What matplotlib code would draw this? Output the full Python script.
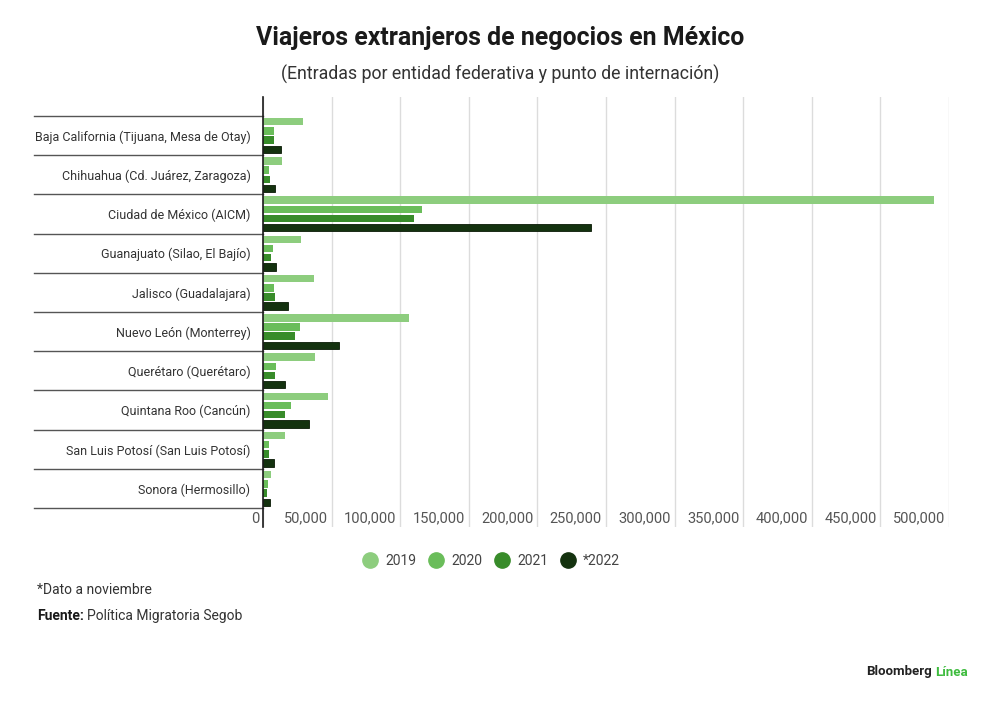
import matplotlib
matplotlib.use("Agg")
import matplotlib.pyplot as plt
import matplotlib.transforms as mtransforms
from matplotlib.lines import Line2D
import numpy as np

plt.rcParams['font.family'] = ['Roboto', 'DejaVu Sans']

categories = [
    "Baja California (Tijuana, Mesa de Otay)",
    "Chihuahua (Cd. Juárez, Zaragoza)",
    "Ciudad de México (AICM)",
    "Guanajuato (Silao, El Bajío)",
    "Jalisco (Guadalajara)",
    "Nuevo León (Monterrey)",
    "Querétaro (Querétaro)",
    "Quintana Roo (Cancún)",
    "San Luis Potosí (San Luis Potosí)",
    "Sonora (Hermosillo)",
]
series_names = ["2019", "2020", "2021", "*2022"]
v2019 = [29400, 14100, 489000, 27700, 37000, 106700, 37900, 47100, 15800, 5800]
v2020 = [8000, 4400, 115600, 7300, 8000, 27200, 9500, 20200, 4100, 3400]
v2021 = [8000, 5100, 110300, 5800, 8700, 23300, 8700, 16300, 4100, 2700]
v2022 = [13100, 8700, 239000, 9500, 18000, 55400, 16300, 33800, 8000, 5100]
xticks = [0, 50000, 100000, 150000, 200000, 250000, 300000, 350000, 400000, 450000, 500000]
xticklabels = ["0", "50,000", "100,000", "150,000", "200,000", "250,000",
               "300,000", "350,000", "400,000", "450,000", "500,000"]

colors = ["#8dcd7e", "#6abd5a", "#388c2a", "#14320f"]
edges = ["none", "none", "none", "#0a1a06"]

fig = plt.figure(figsize=(10, 7.04), dpi=100)
ax = fig.add_axes([0.263, 1 - 527 / 704, 0.949 - 0.263, (527 - 97) / 704])

y = np.arange(len(categories))
pitch = 0.235
height = 0.19
all_vals = [v2019, v2020, v2021, v2022]
for i, (vals, c, e, name) in enumerate(zip(all_vals, colors, edges, series_names)):
    ax.barh(y + (i - 1.5) * pitch, vals, height=height, color=c,
            edgecolor=e, linewidth=0.6 if e != "none" else 0, label=name, zorder=3)

ax.set_xlim(0, 500000)
ax.set_ylim(len(categories) - 0.5 + 0.48, -0.5 - 0.48)

ax.set_xticks(xticks)
ax.set_xticklabels(xticklabels)
ax.grid(axis='x', color='#dcdcdc', linewidth=1, zorder=0)
ax.set_axisbelow(True)

for s in ['top', 'right', 'bottom']:
    ax.spines[s].set_visible(False)
ax.spines['left'].set_color('#1a1a1a')
ax.spines['left'].set_linewidth(1.2)
ax.spines['left'].set_zorder(4)

ax.set_yticks(y)
ax.set_yticklabels(categories)
ax.tick_params(axis='y', length=0, pad=9, labelsize=9.0, labelcolor='#333333')
ax.tick_params(axis='x', length=0, pad=-11, labelsize=10.5, labelcolor='#555555')

offset = mtransforms.ScaledTranslation(-4 / 100, 0, fig.dpi_scale_trans)
for lab in ax.get_xticklabels():
    lab.set_horizontalalignment('right')
    lab.set_transform(lab.get_transform() + offset)

# row separators extending into the label area
trans = mtransforms.blended_transform_factory(ax.transAxes, ax.transData)
x_left = (34 - 263) / (949 - 263)
for b in np.arange(-0.5, len(categories), 1.0):
    ax.plot([x_left, 0], [b, b], transform=trans, color='#555555',
            linewidth=1, clip_on=False, zorder=4)

# titles
fig.text(0.5, 1 - 38 / 704, "Viajeros extranjeros de negocios en México",
         ha='center', va='center', fontsize=17.9, fontweight='bold', color='#1a1a1a')
fig.text(0.5, 1 - 74 / 704, "(Entradas por entidad federativa y punto de internación)",
         ha='center', va='center', fontsize=12.75, color='#333333')

# legend
handles = [Line2D([0], [0], marker='o', linestyle='none', markersize=11,
                  markerfacecolor=c, markeredgecolor=c) for c in colors]
fig.legend(handles, series_names, loc='center', bbox_to_anchor=(0.491, 1 - 561 / 704),
           ncol=4, frameon=False, fontsize=10, handletextpad=0.5,
           columnspacing=0.8, labelcolor='#444444', handlelength=1.2)

# footnotes
fig.text(0.037, 1 - 590 / 704, "*Dato a noviembre", ha='left', va='center',
         fontsize=10, color='#333333')
t1 = fig.text(0.037, 1 - 616 / 704, "Fuente:", ha='left', va='center',
              fontsize=10, fontweight='bold', color='#1a1a1a')
fig.canvas.draw()
bb = t1.get_window_extent()
fig.text(bb.x1 / fig.bbox.width + 0.003, 1 - 616 / 704, "Política Migratoria Segob",
         ha='left', va='center', fontsize=10, color='#333333')

# brand
t2 = fig.text(0.866, 1 - 672 / 704, "Bloomberg", ha='left', va='center',
              fontsize=9.5, fontweight='bold', color='#222222')
fig.canvas.draw()
bb2 = t2.get_window_extent()
fig.text(bb2.x1 / fig.bbox.width + 0.003, 1 - 672 / 704, "Línea", ha='left', va='center',
         fontsize=9.5, fontweight='bold', color='#3dbb3d')

fig.savefig("out.png", dpi=100, facecolor='white')
